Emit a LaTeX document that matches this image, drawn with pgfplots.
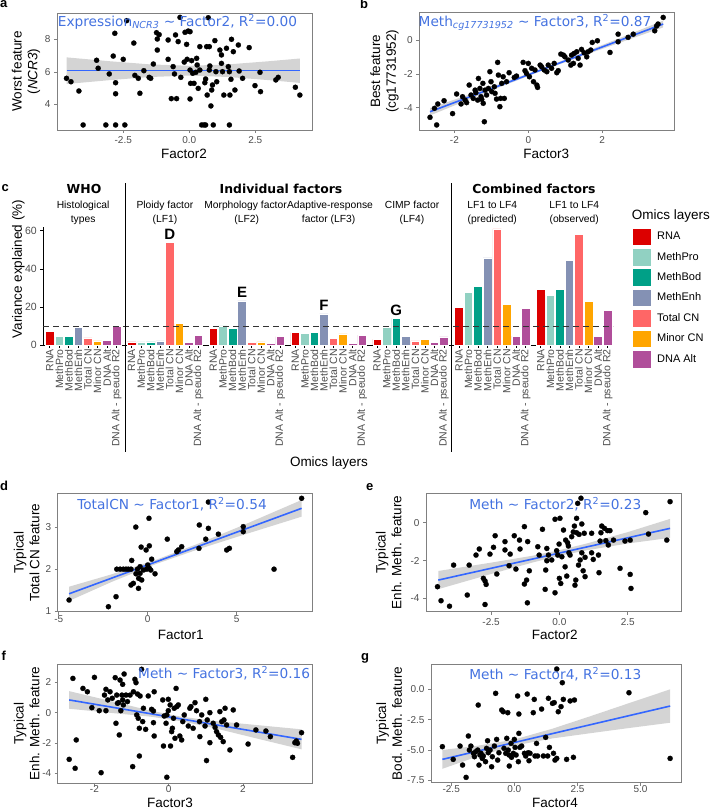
\documentclass[border=0pt]{standalone}
\usepackage{pgfplots}
\pgfplotsset{compat=1.18}
\usepackage{pgfplotstable}
\usepackage{fontspec}
\setmainfont{Liberation Sans}
\newfontfamily\dv{DejaVu Sans}
\definecolor{cRNA}{HTML}{DC0000}
\definecolor{cPro}{HTML}{91D1C2}
\definecolor{cBod}{HTML}{00A087}
\definecolor{cEnh}{HTML}{8491B4}
\definecolor{cTot}{HTML}{FF6666}
\definecolor{cMin}{HTML}{FFA500}
\definecolor{cDNA}{HTML}{B04E9A}
\definecolor{tickgray}{HTML}{4D4D4D}
\definecolor{fitblue}{HTML}{3366FF}
\definecolor{anncol}{HTML}{4472E0}
\definecolor{bandgray}{HTML}{D4D4D4}
\newcommand\ftick{\fontsize{10}{12}\selectfont}
\newcommand\ftitle{\fontsize{13.5}{15.7}\selectfont}
\newcommand\fann{\dv\fontsize{13.7}{15}\selectfont}
\newcommand\fpanel{\bfseries\fontsize{13}{14}\selectfont}
\newcommand\fstrip{\fontsize{10.3}{14}\selectfont}
\newcommand\fhead{\dv\bfseries\fontsize{12.4}{14}\selectfont}
\pgfplotsset{
  sc/.style={scale only axis, anchor=north west,
    axis line style={black!50, line width=0.6pt},
    tick style={black!50, line width=0.6pt},
    tick align=outside, major tick length=3pt, tick pos=left,
    tick label style={font=\ftick, text=tickgray},
    /pgf/number format/assume math mode=true},
  pts/.style={only marks, mark=*, mark size=2.6pt, mark options={fill=black, draw=black, line width=0.2pt, solid}},
  fit/.style={fitblue, line width=1.6pt, no marks},
  bnd/.style={fill=bandgray, draw=none, no marks},
  bar/.style={ybar, bar width=0.9, bar shift=0pt, draw=white, line width=0.5pt}
}
\pgfplotstableread{
base RNA MethPro MethBod MethEnh TotalCN MinorCN DNAAlt R2
0 7.0 4.4 4.7 9.1 3.8 2.1 2.3 9.6
8.57 1.6 1.7 1.7 2.1 53.9 11.2 1.4 5.2
17.14 8.9 10.1 8.7 23.1 1.2 1.6 1.0 4.4
25.71 6.5 6.1 6.5 16.3 3.5 5.9 1.0 5.2
34.28 3.0 9.4 14.0 4.7 2.1 2.8 1.2 4.2
42.85 19.9 27.6 30.6 45.8 60.9 21.5 4.7 19.4
51.42 29.2 26.2 29.2 44.4 58.2 22.9 4.5 18.2
}\varexp
\begin{document}
\begin{tikzpicture}
% ---------------- panel a
\begin{axis}[sc, at={(57pt,-13pt)}, width=255pt, height=117pt,
  xmin=-5.01, xmax=4.65, ymin=2.42, ymax=9.62,
  xtick={-2.5,0,2.5}, xticklabels={-2.5,0.0,2.5}, ytick={4,6,8}]
\addplot[bnd] coordinates {(-4.65,6.89) (-3,6.65) (-1.5,6.46) (0,6.37) (1.5,6.46) (3,6.65) (4.19,6.82) (4.19,5.32) (3,5.49) (1.5,5.68) (0,5.77) (-1.5,5.68) (-3,5.49) (-4.65,5.25)} -- cycle;
\addplot[pts] table {
x y
-4.65 5.60
-4.48 5.39
-4.18 4.82
-4.02 2.73
-3.51 6.71
-3.45 6.22
-3.16 2.73
-3.03 5.87
-2.88 6.97
-2.82 8.37
-2.79 5.33
-2.79 4.65
-2.79 2.73
-2.50 6.77
-2.44 2.73
-2.37 9.15
-2.10 7.77
-2.06 5.78
-1.93 5.60
-1.87 4.68
-1.72 6.07
-1.52 5.66
-1.46 5.60
-1.36 6.48
-1.24 8.41
-1.21 8.02
-1.21 7.34
-1.14 8.29
-0.80 7.96
-0.80 6.77
-0.68 4.35
-0.61 6.32
-0.56 5.87
-0.52 8.27
-0.48 4.35
-0.42 7.86
-0.35 9.35
-0.32 5.66
-0.19 6.60
-0.16 8.43
-0.10 7.69
-0.08 6.77
-0.04 8.51
0.03 8.47
0.03 6.11
0.03 4.33
0.05 5.29
0.09 6.69
0.13 5.91
0.18 5.29
0.25 5.97
0.28 6.83
0.30 6.42
0.34 4.98
0.40 7.55
0.40 6.11
0.47 2.73
0.56 2.73
0.59 5.33
0.62 5.56
0.62 2.73
0.66 7.55
0.68 4.57
0.72 9.33
0.76 7.55
0.76 6.11
0.78 6.36
0.82 3.90
0.85 4.88
0.88 5.19
0.91 2.73
0.97 7.92
1.01 6.01
1.04 5.39
1.16 7.34
1.22 7.04
1.22 6.52
1.26 6.01
1.31 4.57
1.41 7.45
1.48 6.32
1.52 2.73
1.52 6.01
1.54 4.57
1.58 5.54
1.60 8.00
1.67 7.24
1.73 4.88
1.86 7.65
1.89 6.05
2.02 5.60
2.27 7.49
2.49 5.15
2.68 5.97
2.70 4.78
3.28 5.50
3.37 5.66
4.02 5.05
4.19 4.57
};
\addplot[fit] coordinates {(-4.65,6.07) (4.19,6.07)};
\end{axis}
% ---------------- panel b
\begin{axis}[sc, at={(419.3pt,-12.7pt)}, width=255pt, height=117.3pt,
  xmin=-2.95, xmax=3.95, ymin=-5.32, ymax=1.62,
  xtick={-2,0,2}, ytick={-4,-2,0}]
\addplot[bnd] coordinates {(-2.66,-4.02) (-1,-2.775) (0.3,-1.735) (1.5,-0.728) (3.65,1.15) (3.65,0.75) (1.5,-0.908) (0.3,-1.875) (-1,-2.975) (-2.66,-4.46)} -- cycle;
\addplot[pts] table {
x y
-2.66 -4.57
-2.54 -4.04
-2.48 -5.02
-2.45 -3.78
-2.28 -3.59
-2.05 -4.35
-1.94 -3.19
-1.82 -3.78
-1.78 -3.35
-1.71 -3.55
-1.67 -3.70
-1.60 -2.66
-1.55 -3.25
-1.49 -3.45
-1.44 -2.96
-1.42 -3.11
-1.37 -3.55
-1.35 -2.27
-1.31 -2.86
-1.28 -3.35
-1.26 -3.51
-1.23 -2.56
-1.22 -3.74
-1.19 -4.83
-1.17 -2.96
-1.13 -3.25
-1.08 -2.86
-1.04 -1.87
-1.01 -2.46
-0.99 -3.05
-0.92 -2.76
-0.90 -3.15
-0.86 -3.49
-0.83 -1.32
-0.81 -2.07
-0.77 -3.94
-0.75 -3.45
-0.72 -2.56
-0.68 -2.17
-0.65 -3.45
-0.59 -2.46
-0.52 -1.93
-0.38 -2.21
-0.32 -2.13
-0.14 -1.32
-0.09 -1.81
-0.05 -1.97
0.00 -1.38
0.03 -2.17
0.09 -1.67
0.14 -2.46
0.18 -1.77
0.23 -2.66
0.25 -2.80
0.32 -1.48
0.36 -1.58
0.43 -1.77
0.50 -1.87
0.54 -1.48
0.63 -1.67
0.70 -1.38
0.77 -1.93
0.81 -1.81
0.88 -0.83
0.95 -0.89
0.99 -0.99
1.08 -1.18
1.15 -1.48
1.17 -0.89
1.22 -1.38
1.24 -0.79
1.31 -0.69
1.35 -1.08
1.40 -1.48
1.44 -0.55
1.51 -0.75
1.58 -0.99
1.62 -0.69
1.69 -0.59
1.73 -0.14
1.87 -0.04
2.21 -0.73
2.43 0.35
2.43 -0.10
2.70 0.16
2.84 0.35
3.42 0.55
3.47 0.83
3.51 0.95
3.65 1.34
};
\addplot[fit] coordinates {(-2.66,-4.24) (3.65,0.95)};
\end{axis}
% ---------------- panel c
\begin{axis}[scale only axis, anchor=north west, at={(43.3pt,-226.9pt)}, width=570pt, height=118.1pt,
  xmin=-0.67, xmax=59.02, ymin=0, ymax=62, clip=false,
  axis x line*=bottom, axis y line*=left, axis line style={black, line width=0.6pt, -},
  tick align=outside, major tick length=3pt, tick style={black, line width=0.6pt},
  ytick={0,20,40,60}, yticklabel style={font=\fontsize{10.5}{12}\selectfont, text=tickgray},
  xtick={0,1,2,3,4,5,6,7,8.57,9.57,10.57,11.57,12.57,13.57,14.57,15.57,17.14,18.14,19.14,20.14,21.14,22.14,23.14,24.14,25.71,26.71,27.71,28.71,29.71,30.71,31.71,32.71,34.28,35.28,36.28,37.28,38.28,39.28,40.28,41.28,42.85,43.85,44.85,45.85,46.85,47.85,48.85,49.85,51.42,52.42,53.42,54.42,55.42,56.42,57.42,58.42},
  xticklabels={RNA,MethPro,MethBod,MethEnh,Total CN,Minor CN,DNA Alt,DNA Alt - pseudo R2,RNA,MethPro,MethBod,MethEnh,Total CN,Minor CN,DNA Alt,DNA Alt - pseudo R2,RNA,MethPro,MethBod,MethEnh,Total CN,Minor CN,DNA Alt,DNA Alt - pseudo R2,RNA,MethPro,MethBod,MethEnh,Total CN,Minor CN,DNA Alt,DNA Alt - pseudo R2,RNA,MethPro,MethBod,MethEnh,Total CN,Minor CN,DNA Alt,DNA Alt - pseudo R2,RNA,MethPro,MethBod,MethEnh,Total CN,Minor CN,DNA Alt,DNA Alt - pseudo R2,RNA,MethPro,MethBod,MethEnh,Total CN,Minor CN,DNA Alt,DNA Alt - pseudo R2},
  xticklabel style={rotate=90, anchor=east, font=\fontsize{10.5}{12}\selectfont, text=tickgray, inner sep=1pt},
  /pgf/number format/assume math mode=true,
  legend style={at={(1.0323,0.9966)}, anchor=north west, draw=none, fill=none, inner sep=0pt, row sep=2.3pt, column sep=6pt, font=\fontsize{11}{12}\selectfont, nodes={inner sep=0pt}},
  legend cell align=left,
  legend image code/.code={\draw[#1, draw=white, line width=0.5pt] (0pt,-8.8pt) rectangle (18.7pt,8.8pt);},
]
\addplot[bar, fill=cRNA] table[x expr=\thisrow{base}+0, y=RNA]{\varexp}; \addlegendentry{RNA}
\addplot[bar, fill=cPro] table[x expr=\thisrow{base}+1, y=MethPro]{\varexp}; \addlegendentry{MethPro}
\addplot[bar, fill=cBod] table[x expr=\thisrow{base}+2, y=MethBod]{\varexp}; \addlegendentry{MethBod}
\addplot[bar, fill=cEnh] table[x expr=\thisrow{base}+3, y=MethEnh]{\varexp}; \addlegendentry{MethEnh}
\addplot[bar, fill=cTot] table[x expr=\thisrow{base}+4, y=TotalCN]{\varexp}; \addlegendentry{Total CN}
\addplot[bar, fill=cMin] table[x expr=\thisrow{base}+5, y=MinorCN]{\varexp}; \addlegendentry{Minor CN}
\addplot[bar, fill=cDNA] table[x expr=\thisrow{base}+6, y=DNAAlt]{\varexp}; \addlegendentry{DNA Alt}
\addplot[bar, fill=cDNA, forget plot] table[x expr=\thisrow{base}+7, y=R2]{\varexp};
\addplot[forget plot, black!80, dash pattern=on 6pt off 4pt, line width=0.8pt] coordinates {(-0.67,10) (59.02,10)};
\node[font=\bfseries\fontsize{15}{15}\selectfont, anchor=base, yshift=3pt] at (axis cs:12.57,53.9) {D};
\node[font=\bfseries\fontsize{15}{15}\selectfont, anchor=base, yshift=3pt] at (axis cs:20.14,23.1) {E};
\node[font=\bfseries\fontsize{15}{15}\selectfont, anchor=base, yshift=3pt] at (axis cs:28.71,16.3) {F};
\node[font=\bfseries\fontsize{15}{15}\selectfont, anchor=base, yshift=3pt] at (axis cs:36.28,14.0) {G};
\end{axis}
% ---------------- panel d
\begin{axis}[sc, at={(57.7pt,-493.3pt)}, width=254.6pt, height=118.4pt,
  xmin=-5.06, xmax=9.25, ymin=0.98, ymax=3.82,
  xtick={-5,0,5}, ytick={1,2,3}, xticklabel style={yshift=3pt}]
\addplot[bnd] coordinates {(-4.42,1.58) (-2,1.88) (0.5,2.23) (3,2.64) (5.5,3.08) (8.65,3.66) (8.65,3.26) (5.5,2.84) (3,2.50) (0.5,2.13) (-2,1.70) (-4.42,1.24)} -- cycle;
\addplot[pts] table {
x y
-4.42 1.26
-2.21 1.10
-1.78 1.34
-1.74 2.00
-1.55 2.00
-1.37 2.00
-1.22 2.00
-1.09 2.00
-0.94 2.00
-0.90 2.21
-0.94 1.62
-0.81 1.66
-0.67 3.01
-0.66 1.89
-0.58 2.00
-0.52 1.54
-0.51 1.78
-0.43 2.06
-0.43 1.90
-0.37 2.53
-0.34 1.74
-0.24 1.98
-0.09 2.46
-0.06 2.00
0.00 2.10
0.07 3.22
0.09 2.56
0.09 2.02
0.17 1.98
0.22 2.24
0.41 1.89
1.10 2.72
1.63 2.42
1.72 2.46
1.91 2.54
2.88 2.50
2.90 3.06
3.26 2.72
3.41 3.61
3.41 2.98
3.97 2.84
4.44 2.46
4.59 2.50
5.37 3.02
5.37 2.90
7.10 2.00
8.65 3.70
};
\addplot[fit] coordinates {(-4.42,1.41) (8.65,3.46)};
\end{axis}
% ---------------- panel e
\begin{axis}[sc, at={(426pt,-493.3pt)}, width=255pt, height=118.4pt,
  xmin=-4.88, xmax=4.45, ymin=-4.70, ymax=1.55,
  xtick={-2.5,0,2.5}, xticklabels={-2.5,0.0,2.5}, ytick={-4,-2,0}]
\addplot[bnd] coordinates {(-4.43,-2.55) (-2.5,-2.11) (-1,-1.75) (0,-1.45) (1,-1.10) (2.5,-0.50) (4.05,0.20) (4.05,-0.80) (2.5,-1.10) (1,-1.46) (0,-1.75) (-1,-2.11) (-2.5,-2.71) (-4.43,-3.51)} -- cycle;
\addplot[pts] table {
x y
-4.46 -3.38
-4.33 -4.12
-4.02 -4.41
-3.87 -2.24
-3.37 -3.82
-3.30 -2.24
-3.05 -1.71
-2.93 -1.39
-2.78 -2.94
-2.72 -3.08
-2.68 -3.26
-2.72 -4.32
-2.54 -1.66
-2.41 -1.30
-2.35 -0.69
-2.29 -2.71
-1.99 -1.00
-1.99 -1.44
-1.80 -1.66
-1.84 -2.27
-1.65 -0.69
-1.59 -2.45
-1.46 -0.92
-1.44 -1.39
-1.28 -0.21
-1.28 -3.24
-1.20 -3.03
-1.17 -4.23
-1.16 -1.00
-1.10 -2.54
-0.79 -1.27
-0.74 -1.71
-0.62 -0.35
-0.52 -3.52
-0.50 -2.50
-0.46 -2.01
-0.46 -1.36
-0.40 -1.71
-0.28 -1.97
-0.16 -3.70
-0.16 0.18
-0.10 -1.48
-0.06 -1.71
0.02 0.23
-0.01 -1.13
0.00 -2.94
0.05 -3.21
0.09 -1.80
0.15 -0.39
0.21 -2.33
0.23 -0.92
0.27 -2.82
0.30 -1.06
0.33 -1.23
0.35 -1.59
0.39 -1.71
0.45 -0.74
0.51 -0.49
0.55 -0.18
0.57 -3.30
0.60 -3.03
0.63 0.23
0.63 -0.53
0.67 1.02
0.70 -2.24
0.72 -0.62
0.76 -1.97
0.79 1.29
0.82 -0.07
0.82 -1.59
0.87 -2.54
0.91 -0.56
0.94 -2.85
0.94 -1.83
1.18 -1.59
1.18 -0.56
1.24 -1.94
1.43 -1.71
1.45 -2.64
1.49 -0.97
1.52 -0.53
1.55 -0.18
1.65 -0.30
1.70 -0.95
1.76 -0.42
1.85 -0.42
1.79 -1.18
1.98 -0.92
2.22 -2.41
2.40 -0.97
2.59 -0.92
2.59 -2.73
2.62 -3.47
3.16 0.53
3.26 -0.60
3.93 -0.92
4.05 1.11
};
\addplot[fit] coordinates {(-4.43,-3.03) (4.05,-0.30)};
\end{axis}
% ---------------- panel f
\begin{axis}[sc, at={(57.7pt,-664pt)}, width=254.6pt, height=119.3pt,
  xmin=-2.99, xmax=3.87, ymin=-4.66, ymax=3.21,
  xtick={-2,0,2}, ytick={-4,-2,0,2}, xticklabel style={yshift=4.5pt}]
\addplot[bnd] coordinates {(-2.68,1.42) (-1.5,0.73) (-0.5,0.14) (0.3,-0.25) (1.2,-0.54) (2.3,-0.80) (3.58,-1.10) (3.58,-2.42) (2.3,-1.66) (1.2,-1.00) (0.3,-0.55) (-0.5,-0.26) (-1.5,-0.03) (-2.68,0.26)} -- cycle;
\addplot[pts] table {
x y
-2.68 -3.08
-2.58 2.26
-2.52 -3.67
-2.49 -1.80
-2.31 1.60
-2.19 1.38
-2.07 0.33
-2.00 2.33
-1.87 0.13
-1.82 -3.96
-1.73 1.16
-1.69 1.54
-1.69 0.13
-1.64 0.84
-1.58 1.38
-1.52 0.95
-1.44 2.31
-1.42 -0.70
-1.40 1.16
-1.38 0.62
-1.35 0.66
-1.33 -1.47
-1.31 2.15
-1.29 0.13
-1.26 1.16
-1.24 0.84
-1.22 0.51
-1.20 2.55
-1.24 1.87
-1.15 1.16
-1.11 0.73
-1.04 1.16
-0.97 -3.56
-0.95 1.38
-0.91 2.20
-0.88 1.98
-0.86 -0.15
-0.84 1.23
-0.82 -0.37
-0.79 -2.86
-0.79 -1.03
-0.77 1.10
-0.73 2.86
-0.70 -0.59
-0.68 0.29
-0.62 -1.10
-0.55 1.10
-0.46 0.22
-0.41 0.11
-0.41 -0.66
-0.39 1.38
-0.39 -1.54
-0.16 0.84
-0.14 -2.20
-0.12 -0.22
-0.07 -0.70
-0.05 -4.26
-0.05 -0.15
-0.01 0.88
-0.01 0.13
0.04 0.51
0.05 -2.20
0.08 -1.25
0.10 -1.03
0.13 -0.37
0.15 0.29
0.17 -1.69
0.20 1.60
0.22 0.40
0.26 0.51
0.30 -1.54
0.35 -1.80
0.38 -0.59
0.42 -0.15
0.53 -0.88
0.57 0.29
0.60 0.40
0.66 -1.03
0.71 0.66
0.75 0.13
0.83 -0.59
0.84 -1.58
0.89 -0.15
0.98 -0.88
1.00 0.88
1.02 -3.16
1.04 -0.48
1.11 -1.98
1.11 0.00
1.20 -0.70
1.25 -0.97
1.29 -1.25
1.34 -1.47
1.38 0.07
1.40 -1.63
1.43 -0.59
1.47 -1.91
1.49 -0.48
1.52 0.29
1.56 -0.81
1.65 -2.46
1.74 0.18
1.83 -0.81
2.14 -2.07
2.35 -1.14
2.62 -1.21
2.74 -1.58
3.34 -2.95
3.40 -1.98
3.44 -1.87
3.47 -2.02
3.58 -1.32
};
\addplot[fit] coordinates {(-2.68,0.84) (3.58,-1.76)};
\end{axis}
% ---------------- panel g
\begin{axis}[sc, at={(431pt,-664.3pt)}, width=250pt, height=118.4pt,
  xmin=-3.30, xmax=6.60, ymin=-7.72, ymax=2.07,
  xtick={-2.5,0,2.5,5}, xticklabels={-2.5,0.0,2.5,5.0},
  ytick={-7.5,-5,-2.5,0}, yticklabels={-7.5,-5.0,-2.5,0.0}, xticklabel style={yshift=3.5pt}]
\addplot[bnd] coordinates {(-2.85,-5.01) (-1.5,-4.68) (0,-4.15) (1.5,-3.26) (3,-2.23) (4.5,-1.17) (6.17,0.0) (6.17,-2.76) (4.5,-3.21) (3,-3.63) (1.5,-4.06) (0,-4.65) (-1.5,-5.58) (-2.85,-6.57)} -- cycle;
\addplot[pts] table {
x y
-2.85 -4.74
-2.42 -5.79
-2.15 -4.69
-2.05 -6.26
-1.91 -7.28
-1.82 -3.86
-1.78 -5.02
-1.72 -4.69
-1.62 -5.29
-1.58 -5.57
-1.53 -5.16
-1.45 -5.02
-1.43 -1.30
-1.40 -6.26
-1.36 -5.43
-1.32 -5.29
-1.27 -5.71
-1.23 -5.51
-1.14 -5.98
-1.10 -4.88
-1.06 -4.25
-1.03 -5.24
-0.96 -5.02
-0.90 -6.40
-0.87 -5.57
-0.79 -4.69
-0.74 -0.33
-0.70 -4.14
-0.66 -5.85
-0.61 -5.24
-0.50 -1.71
-0.44 -1.85
-0.41 -4.88
-0.34 -5.29
-0.30 -4.05
-0.26 -1.93
-0.24 -5.02
-0.21 -5.43
-0.20 -6.34
-0.13 -4.47
-0.11 -5.62
-0.04 -5.29
0.00 -4.14
0.03 -4.80
0.07 -5.43
0.13 -0.55
0.16 -5.98
0.18 -2.04
0.18 -3.64
0.22 -4.80
0.29 -4.69
0.40 -5.29
0.45 -5.51
0.51 -0.39
0.55 -5.24
0.58 -5.90
0.62 -5.29
0.75 -1.93
0.79 -0.83
0.82 -5.51
0.88 -4.47
0.92 -5.51
1.08 -1.63
1.15 -5.51
1.24 -3.97
1.32 -5.51
1.35 -0.74
1.39 -4.80
1.51 -1.16
1.55 -5.29
1.58 -1.10
1.61 -5.85
1.68 1.68
1.68 -5.71
1.74 -1.85
1.85 -1.43
1.90 0.55
1.94 -0.83
2.07 -5.79
2.21 -0.96
2.34 -5.62
2.38 -0.88
4.54 -0.28
6.17 -5.71
};
\addplot[fit] coordinates {(-2.85,-5.79) (6.17,-1.38)};
\end{axis}
% ---------------- annotations, titles, labels
\node[font=\fann, text=anncol, anchor=base] at (177.5pt,-26.5pt) {Expression\textsubscript{\textit{NCR3}} \textasciitilde{} Factor2, R\textsuperscript{2}=0.00};
\node[font=\fann, text=anncol, anchor=base] at (535pt,-26.5pt) {Meth\textsubscript{\textit{cg17731952}} \textasciitilde{} Factor3, R\textsuperscript{2}=0.87};
\node[font=\fann, text=anncol, anchor=base] at (172pt,-509.3pt) {TotalCN \textasciitilde{} Factor1, R\textsuperscript{2}=0.54};
\node[font=\fann, text=anncol, anchor=base] at (555.3pt,-509.3pt) {Meth \textasciitilde{} Factor2, R\textsuperscript{2}=0.23};
\node[font=\fann, text=anncol, anchor=base] at (224.2pt,-678.3pt) {Meth \textasciitilde{} Factor3, R\textsuperscript{2}=0.16};
\node[font=\fann, text=anncol, anchor=base] at (555.3pt,-679.3pt) {Meth \textasciitilde{} Factor4, R\textsuperscript{2}=0.13};
% x titles
\node[font=\ftitle, anchor=base] at (184pt,-158.3pt) {Factor2};
\node[font=\ftitle, anchor=base] at (546.2pt,-158.3pt) {Factor3};
\node[font=\ftitle, anchor=base] at (180.8pt,-639.5pt) {Factor1};
\node[font=\ftitle, anchor=base] at (554.7pt,-639.5pt) {Factor2};
\node[font=\ftitle, anchor=base] at (170pt,-807pt) {Factor3};
\node[font=\ftitle, anchor=base] at (555pt,-807pt) {Factor4};
\node[font=\ftitle, anchor=base] at (329pt,-466pt) {Omics layers};
% y titles
\node[font=\ftitle, rotate=90, align=center] at (26pt,-71.5pt) {Worst feature\\(\textit{NCR3})};
\node[font=\ftitle, rotate=90, align=center] at (384.6pt,-71.3pt) {Best feature\\(cg17731952)};
\node[font=\ftitle, rotate=90] at (18.3pt,-269pt) {Variance explained (\%)};
\node[font=\ftitle, rotate=90, align=center] at (26.7pt,-552.5pt) {Typical\\Total CN feature};
\node[font=\ftitle, rotate=90, align=center] at (388.7pt,-552.5pt) {Typical\\Enh. Meth. feature};
\node[font=\ftitle, rotate=90, align=center] at (26.7pt,-723.7pt) {Typical\\Enh. Meth. feature};
\node[font=\ftitle, rotate=90, align=center] at (389.2pt,-723.5pt) {Typical\\Bod. Meth. feature};
% panel letters
\node[font=\fpanel, anchor=base west, inner sep=0pt] at (0pt,-7.5pt) {a};
\node[font=\fpanel, anchor=base west, inner sep=0pt] at (360pt,-8.3pt) {b};
\node[font=\fpanel, anchor=base west, inner sep=0pt] at (1.5pt,-191.7pt) {c};
\node[font=\fpanel, anchor=base west, inner sep=0pt] at (0pt,-490.7pt) {d};
\node[font=\fpanel, anchor=base west, inner sep=0pt] at (366pt,-490.7pt) {e};
\node[font=\fpanel, anchor=base west, inner sep=0pt] at (1.5pt,-660.7pt) {f};
\node[font=\fpanel, anchor=base west, inner sep=0pt] at (361pt,-660.7pt) {g};
% panel c headers and strips
\node[font=\fhead, anchor=base] at (84pt,-193pt) {WHO};
\node[font=\fhead, anchor=base] at (281pt,-193pt) {Individual factors};
\node[font=\fhead, anchor=base] at (534pt,-193pt) {Combined factors};
\node[font=\fstrip, anchor=base] at (83.1pt,-208pt) {Histological};
\node[font=\fstrip, anchor=base] at (83.1pt,-222pt) {types};
\node[font=\fstrip, anchor=base] at (164.9pt,-208pt) {Ploidy factor};
\node[font=\fstrip, anchor=base] at (164.9pt,-222pt) {(LF1)};
\node[font=\fstrip, anchor=base] at (245.5pt,-208pt) {Morphology factor};
\node[font=\fstrip, anchor=base] at (246.8pt,-222pt) {(LF2)};
\node[font=\fstrip, anchor=base] at (330pt,-208pt) {Adaptive-response};
\node[font=\fstrip, anchor=base] at (328.6pt,-222pt) {factor (LF3)};
\node[font=\fstrip, anchor=base] at (412pt,-208pt) {CIMP factor};
\node[font=\fstrip, anchor=base] at (412pt,-222pt) {(LF4)};
\node[font=\fstrip, anchor=base] at (492.3pt,-208pt) {LF1 to LF4};
\node[font=\fstrip, anchor=base] at (492.3pt,-222pt) {(predicted)};
\node[font=\fstrip, anchor=base] at (574.2pt,-208pt) {LF1 to LF4};
\node[font=\fstrip, anchor=base] at (574.2pt,-222pt) {(observed)};
\draw[black, line width=1.2pt] (125.3pt,-183.3pt) -- (125.3pt,-451.7pt);
\draw[black, line width=1.2pt] (451.3pt,-183.3pt) -- (451.3pt,-451.7pt);
\node[font=\ftitle, anchor=base west, inner sep=0pt] at (631.7pt,-219pt) {Omics layers};
\pgfresetboundingbox
\useasboundingbox (0pt,0pt) rectangle (713pt,-811pt);
\end{tikzpicture}
\end{document}
